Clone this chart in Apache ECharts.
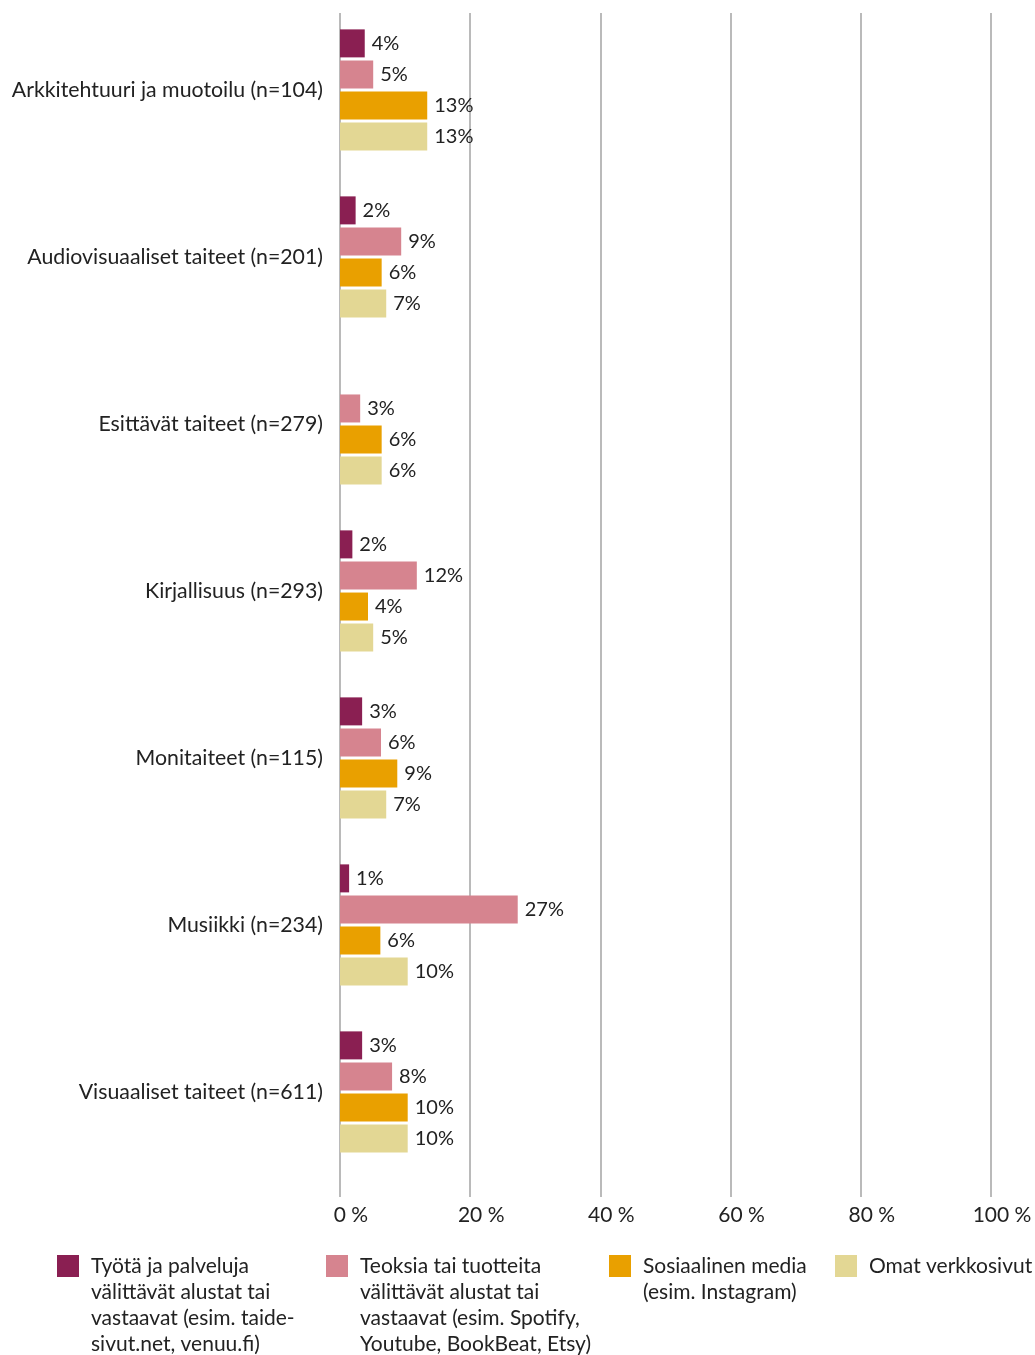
<!DOCTYPE html>
<html>
<head>
<meta charset="utf-8">
<script src="https://cdn.jsdelivr.net/npm/echarts@6/dist/echarts.min.js"></script>
<style>
  html, body { margin: 0; padding: 0; background: #fff; }
  #chart { width: 1035px; height: 1355px; }
</style>
</head>
<body>
<div id="chart"></div>
<script>
// alat (luokat)
var categories = [
    'Arkkitehtuuri ja muotoilu (n=104)',
    'Audiovisuaaliset taiteet (n=201)',
    'Esittävät taiteet (n=279)',
    'Kirjallisuus (n=293)',
    'Monitaiteet (n=115)',
    'Musiikki (n=234)',
    'Visuaaliset taiteet (n=611)'
];
var seriesNames = [
    'Työtä ja palveluja\nvälittävät alustat tai\nvastaavat (esim. taide-\nsivut.net, venuu.fi)',
    'Teoksia tai tuotteita\nvälittävät alustat tai\nvastaavat (esim. Spotify,\nYoutube, BookBeat, Etsy)',
    'Sosiaalinen media\n(esim. Instagram)',
    'Omat verkkosivut'
];
// osuudet %
var tyota = [3.8, 2.4, null, 1.9, 3.4, 1.4, 3.4];
var teoksia = [5.1, 9.4, 3.1, 11.8, 6.3, 27.3, 8.0];
var some = [13.4, 6.4, 6.4, 4.3, 8.8, 6.2, 10.4];
var omat = [13.4, 7.1, 6.4, 5.1, 7.1, 10.4, 10.4];
var xTicks = [0, 20, 40, 60, 80, 100];

var colors = ['#8a1f52', '#d6848f', '#e9a000', '#e3d794'];
var font = 'Lato';
var txt = '#222';

var chart = echarts.init(document.getElementById('chart'));

function makeSeries(i, data) {
    return {
        name: seriesNames[i],
        type: 'bar',
        xAxisIndex: 1,
        yAxisIndex: 1,
        data: data,
        barWidth: 28,
        barGap: '11%',
        itemStyle: {color: colors[i]},
        label: {
            show: true,
            position: 'right',
            distance: 7,
            fontFamily: font,
            fontSize: 20,
            color: txt,
            formatter: function (p) {
                return Math.round(p.value) + '%';
            }
        }
    };
}

// selitteet omina komponentteina, ruutu ensimmäisen rivin kohdalle
var legendLefts = [57, 326, 609, 835];
var lineH = 26;
var legends = seriesNames.map(function (name, i) {
    var lines = name.split('\n').length;
    return {
        data: [name],
        left: legendLefts[i],
        top: 1266 - lineH / 2 - (lines - 1) * lineH,
        padding: 0,
        itemWidth: 22,
        itemHeight: 22,
        icon: 'rect',
        selectedMode: false,
        formatter: function (n) {
            return new Array(lines).join('\n') + n;
        },
        textStyle: {
            fontFamily: font,
            fontSize: 21,
            lineHeight: lineH,
            color: txt,
            padding: [0, 0, 0, 7]
        }
    };
});

var option = {
    animation: false,
    backgroundColor: '#fff',
    legend: legends,
    grid: [
        {left: 340, right: 44, top: 13, height: 1184},
        {left: 340, right: 44, top: 6.5, height: 1169}
    ],
    xAxis: [
        {
            type: 'value',
            gridIndex: 0,
            min: 0,
            max: 100,
            interval: 20,
            axisLine: {show: false},
            axisTick: {show: false},
            axisLabel: {
                margin: 8,
                fontFamily: font,
                fontSize: 21,
                color: txt,
                padding: [0, 0, 0, 22],
                formatter: function (v) {
                    return xTicks.indexOf(v) >= 0 ? v + ' %' : '';
                }
            },
            splitLine: {show: true, lineStyle: {color: '#a3a3a3', width: 1.5}}
        },
        {
            type: 'value',
            gridIndex: 1,
            min: 0,
            max: 100,
            show: false
        }
    ],
    yAxis: [
        {type: 'value', gridIndex: 0, show: false},
        {
            type: 'category',
            gridIndex: 1,
            inverse: true,
            data: categories,
            axisLine: {show: false},
            axisTick: {show: false},
            axisLabel: {
                margin: 17,
                fontFamily: font,
                fontSize: 21.3,
                color: txt
            }
        }
    ],
    series: [
        makeSeries(0, tyota),
        makeSeries(1, teoksia),
        makeSeries(2, some),
        makeSeries(3, omat)
    ]
};

chart.setOption(option);
</script>
</body>
</html>
